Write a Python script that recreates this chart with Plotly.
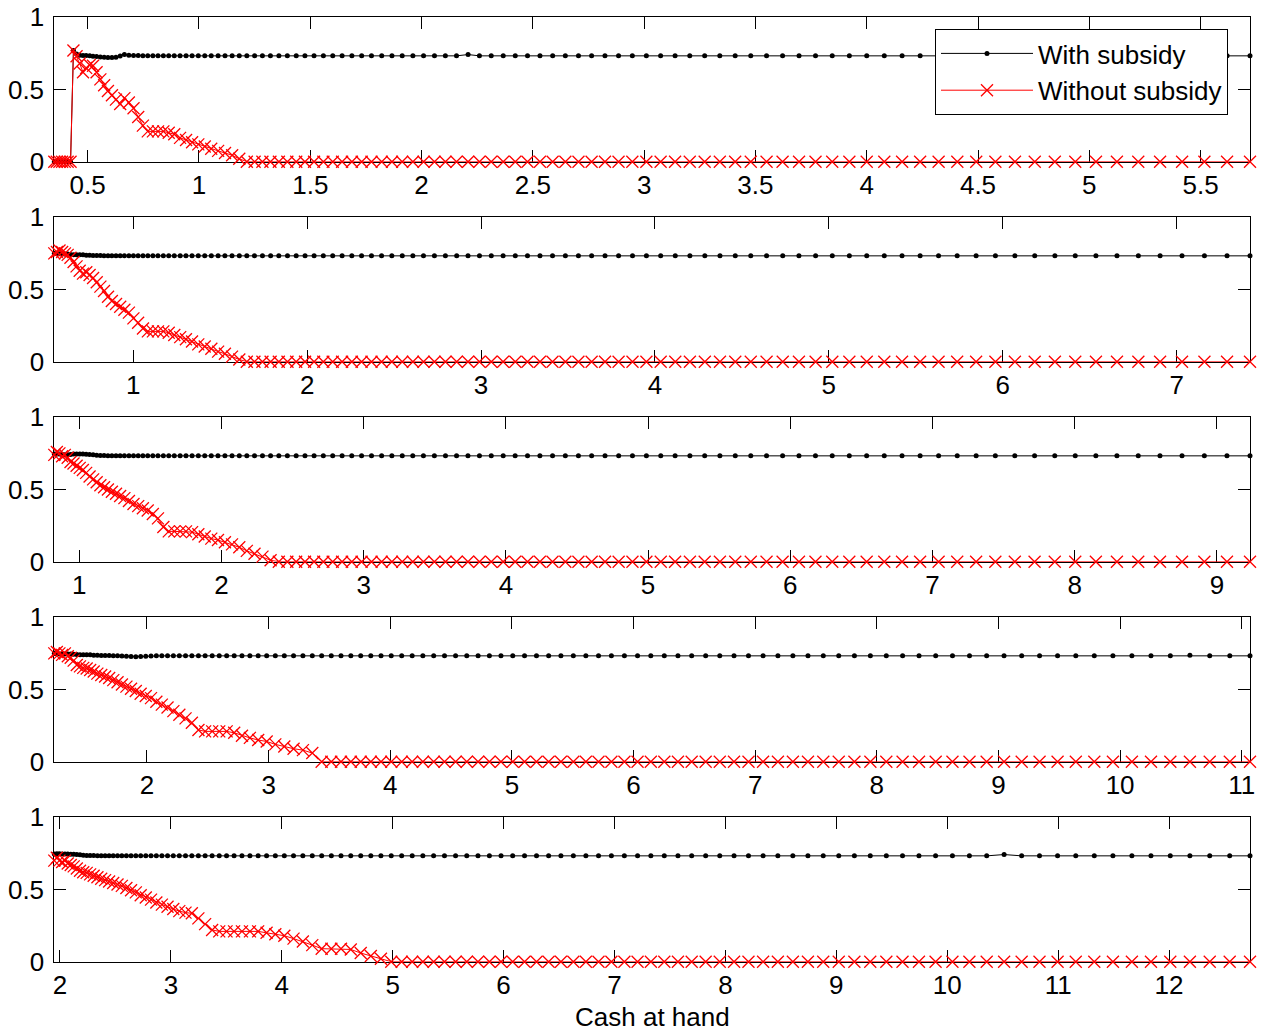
import plotly.graph_objects as go

# ---------------- data ----------------
# Panel 1
x_p1 = [0.350, 0.361, 0.373, 0.385, 0.397, 0.410, 0.423, 0.436, 0.450, 0.464,
        0.479, 0.493, 0.509, 0.524, 0.540, 0.557, 0.574, 0.591, 0.609, 0.627,
        0.646, 0.665, 0.685, 0.706, 0.727, 0.748, 0.770, 0.793, 0.816, 0.840,
        0.864, 0.889, 0.915, 0.942, 0.969, 0.997, 1.026, 1.055, 1.086, 1.117,
        1.149, 1.181, 1.215, 1.250, 1.285, 1.321, 1.359, 1.397, 1.437,
        1.476, 1.517, 1.559, 1.601,
        1.643, 1.687, 1.731, 1.775, 1.821, 1.867, 1.913, 1.961, 2.009, 2.058,
        2.107, 2.157, 2.209, 2.260, 2.313, 2.367, 2.421, 2.476, 2.532, 2.589,
        2.646, 2.705, 2.764, 2.824, 2.885, 2.947, 3.010, 3.074, 3.139, 3.205,
        3.272, 3.340, 3.409, 3.479, 3.550, 3.622, 3.696, 3.770, 3.845, 3.922,
        4.000, 4.079, 4.159, 4.240, 4.323, 4.407, 4.492, 4.578, 4.666, 4.755,
        4.845, 4.937, 5.030, 5.124, 5.220, 5.318, 5.417, 5.517, 5.619, 5.722]
with_p1 = [0, 0, 0, 0, 0, 0, 0, 0.77, 0.745, 0.738,
           0.735, 0.735, 0.733, 0.73, 0.728, 0.725, 0.723, 0.722, 0.722, 0.724,
           0.732, 0.742, 0.738, 0.735, 0.735, 0.734, 0.733, 0.733, 0.733, 0.733,
           0.733, 0.733, 0.733, 0.733, 0.733, 0.733, 0.733, 0.733, 0.733, 0.733,
           0.733, 0.733, 0.733, 0.733, 0.733, 0.733, 0.733, 0.733, 0.733,
           0.733, 0.733, 0.733, 0.733,
           0.733, 0.733, 0.733, 0.733, 0.733, 0.733, 0.733, 0.733, 0.733, 0.733,
           0.733, 0.733, 0.742, 0.733, 0.733, 0.733, 0.733, 0.733, 0.733, 0.733,
           0.733, 0.733, 0.733, 0.733, 0.733, 0.733, 0.733, 0.733, 0.733, 0.733,
           0.733, 0.733, 0.733, 0.733, 0.733, 0.733, 0.733, 0.733, 0.733, 0.733,
           0.733, 0.733, 0.733, 0.733, 0.733, 0.733, 0.733, 0.733, 0.733, 0.733,
           0.733, 0.733, 0.733, 0.733, 0.733, 0.733, 0.733, 0.733, 0.733, 0.733]
without_p1 = [0, 0, 0, 0, 0, 0, 0, 0.77, 0.73, 0.68,
              0.62, 0.65, 0.67, 0.665, 0.62, 0.57, 0.53, 0.49, 0.46, 0.43,
              0.40, 0.44, 0.41, 0.37, 0.31, 0.25, 0.21, 0.21, 0.21, 0.21,
              0.20, 0.19, 0.165, 0.15, 0.135, 0.12, 0.105, 0.09, 0.075, 0.06,
              0.045, 0.02, 0, 0, 0, 0, 0, 0, 0,
              0, 0, 0, 0,
              0, 0, 0, 0, 0, 0, 0, 0, 0, 0,
              0, 0, 0, 0, 0, 0, 0, 0, 0, 0,
              0, 0, 0, 0, 0, 0, 0, 0, 0, 0,
              0, 0, 0, 0, 0, 0, 0, 0, 0, 0,
              0, 0, 0, 0, 0, 0, 0, 0, 0, 0,
              0, 0, 0, 0, 0, 0, 0, 0, 0, 0]
ticks_p1 = [0.5, 1, 1.5, 2, 2.5, 3, 3.5, 4, 4.5, 5, 5.5]
labels_p1 = ["0.5", "1", "1.5", "2", "2.5", "3", "3.5", "4", "4.5", "5", "5.5"]

# Panel 2
x_p2 = [0.546, 0.561, 0.576, 0.591, 0.607, 0.623, 0.639, 0.657, 0.674, 0.692,
        0.711, 0.730, 0.749, 0.769, 0.790, 0.811, 0.832, 0.855, 0.877, 0.901,
        0.925, 0.949, 0.975, 1.001, 1.028, 1.056, 1.084, 1.113, 1.142, 1.173,
        1.204, 1.236, 1.270, 1.303, 1.338, 1.374, 1.411, 1.449, 1.488, 1.527,
        1.568, 1.610, 1.653, 1.697, 1.743, 1.790, 1.837, 1.887, 1.937,
        1.988, 2.040, 2.093, 2.147,
        2.201, 2.257, 2.313, 2.370, 2.428, 2.487, 2.547, 2.608, 2.669, 2.732,
        2.795, 2.860, 2.925, 2.991, 3.059, 3.127, 3.197, 3.267, 3.339, 3.411,
        3.485, 3.560, 3.636, 3.713, 3.791, 3.871, 3.951, 4.033, 4.117, 4.201,
        4.287, 4.374, 4.462, 4.551, 4.642, 4.735, 4.828, 4.924, 5.020, 5.118,
        5.218, 5.319, 5.421, 5.525, 5.631, 5.738, 5.847, 5.958, 6.070, 6.184,
        6.300, 6.417, 6.536, 6.657, 6.780, 6.905, 7.031, 7.160, 7.290, 7.422]
with_p2 = [0.75, 0.75, 0.748, 0.745, 0.745, 0.745, 0.742, 0.74, 0.74, 0.74,
           0.74, 0.738, 0.737, 0.736, 0.735, 0.735, 0.734, 0.734, 0.733, 0.733,
           0.733, 0.733, 0.733, 0.733, 0.733, 0.733, 0.733, 0.733, 0.733, 0.733,
           0.733, 0.733, 0.733, 0.733, 0.733, 0.733, 0.733, 0.733, 0.733, 0.733,
           0.733, 0.733, 0.733, 0.733, 0.733, 0.733, 0.733, 0.733, 0.733,
           0.733, 0.733, 0.733, 0.733,
           0.733, 0.733, 0.733, 0.733, 0.733, 0.733, 0.733, 0.733, 0.733, 0.733,
           0.733, 0.733, 0.733, 0.733, 0.733, 0.733, 0.733, 0.733, 0.733, 0.733,
           0.733, 0.733, 0.733, 0.733, 0.733, 0.733, 0.733, 0.733, 0.733, 0.733,
           0.733, 0.733, 0.733, 0.733, 0.733, 0.733, 0.733, 0.733, 0.733, 0.733,
           0.733, 0.733, 0.733, 0.733, 0.733, 0.733, 0.733, 0.733, 0.733, 0.733,
           0.733, 0.733, 0.733, 0.733, 0.733, 0.733, 0.733, 0.733, 0.733, 0.733]
without_p2 = [0.75, 0.76, 0.77, 0.76, 0.75, 0.74, 0.72, 0.69, 0.66, 0.63,
              0.61, 0.62, 0.60, 0.58, 0.55, 0.52, 0.49, 0.45, 0.42, 0.40,
              0.38, 0.36, 0.34, 0.30, 0.27, 0.23, 0.21, 0.21, 0.21, 0.21,
              0.20, 0.185, 0.17, 0.155, 0.14, 0.12, 0.105, 0.09, 0.07, 0.055,
              0.035, 0.015, 0, 0, 0, 0, 0, 0, 0,
              0, 0, 0, 0,
              0, 0, 0, 0, 0, 0, 0, 0, 0, 0,
              0, 0, 0, 0, 0, 0, 0, 0, 0, 0,
              0, 0, 0, 0, 0, 0, 0, 0, 0, 0,
              0, 0, 0, 0, 0, 0, 0, 0, 0, 0,
              0, 0, 0, 0, 0, 0, 0, 0, 0, 0,
              0, 0, 0, 0, 0, 0, 0, 0, 0, 0]
ticks_p2 = [1, 2, 3, 4, 5, 6, 7]
labels_p2 = ["1", "2", "3", "4", "5", "6", "7"]

# Panel 3
x_p3 = [0.824, 0.842, 0.860, 0.879, 0.898, 0.918, 0.938, 0.959, 0.981, 1.003,
        1.025, 1.048, 1.072, 1.097, 1.122, 1.148, 1.174, 1.201, 1.229, 1.258,
        1.287, 1.317, 1.349, 1.381, 1.414, 1.447, 1.481, 1.517, 1.553, 1.591,
        1.629, 1.668, 1.709, 1.750, 1.793, 1.837, 1.882, 1.928, 1.975, 2.024,
        2.074, 2.125, 2.178, 2.232, 2.288, 2.345, 2.403, 2.463, 2.525,
        2.587, 2.651, 2.716, 2.782,
        2.848, 2.916, 2.985, 3.055, 3.126, 3.198, 3.271, 3.345, 3.420, 3.497,
        3.575, 3.653, 3.733, 3.814, 3.897, 3.981, 4.065, 4.152, 4.239, 4.328,
        4.418, 4.510, 4.603, 4.697, 4.793, 4.890, 4.988, 5.089, 5.190, 5.294,
        5.398, 5.505, 5.613, 5.722, 5.833, 5.946, 6.061, 6.177, 6.295, 6.415,
        6.537, 6.661, 6.786, 6.913, 7.043, 7.174, 7.307, 7.442, 7.579, 7.718,
        7.860, 8.004, 8.149, 8.297, 8.447, 8.600, 8.755, 8.912, 9.071, 9.233]
with_p3 = [0.745, 0.745, 0.745, 0.742, 0.74, 0.74, 0.742, 0.745, 0.745, 0.746,
           0.745, 0.744, 0.742, 0.74, 0.738, 0.736, 0.735, 0.734, 0.733, 0.733,
           0.733, 0.733, 0.733, 0.733, 0.733, 0.733, 0.733, 0.733, 0.733, 0.733,
           0.733, 0.733, 0.733, 0.733, 0.733, 0.733, 0.733, 0.733, 0.733, 0.733,
           0.733, 0.733, 0.733, 0.733, 0.733, 0.733, 0.733, 0.733, 0.733,
           0.733, 0.733, 0.733, 0.733,
           0.733, 0.733, 0.733, 0.733, 0.733, 0.733, 0.733, 0.733, 0.733, 0.733,
           0.733, 0.733, 0.733, 0.733, 0.733, 0.733, 0.733, 0.733, 0.733, 0.733,
           0.733, 0.733, 0.733, 0.733, 0.733, 0.733, 0.733, 0.733, 0.733, 0.733,
           0.733, 0.733, 0.733, 0.733, 0.733, 0.733, 0.733, 0.733, 0.733, 0.733,
           0.733, 0.733, 0.733, 0.733, 0.733, 0.733, 0.733, 0.733, 0.733, 0.733,
           0.733, 0.733, 0.733, 0.733, 0.733, 0.733, 0.733, 0.733, 0.733, 0.733]
without_p3 = [0.74, 0.76, 0.75, 0.73, 0.74, 0.72, 0.69, 0.68, 0.665, 0.65,
              0.635, 0.615, 0.59, 0.57, 0.55, 0.53, 0.515, 0.50, 0.485, 0.47,
              0.455, 0.44, 0.42, 0.40, 0.385, 0.37, 0.355, 0.33, 0.30, 0.24,
              0.21, 0.21, 0.21, 0.21, 0.205, 0.19, 0.175, 0.16, 0.15, 0.135,
              0.12, 0.10, 0.075, 0.055, 0.035, 0.01, 0, 0, 0,
              0, 0, 0, 0,
              0, 0, 0, 0, 0, 0, 0, 0, 0, 0,
              0, 0, 0, 0, 0, 0, 0, 0, 0, 0,
              0, 0, 0, 0, 0, 0, 0, 0, 0, 0,
              0, 0, 0, 0, 0, 0, 0, 0, 0, 0,
              0, 0, 0, 0, 0, 0, 0, 0, 0, 0,
              0, 0, 0, 0, 0, 0, 0, 0, 0, 0]
ticks_p3 = [1, 2, 3, 4, 5, 6, 7, 8, 9]
labels_p3 = ["1", "2", "3", "4", "5", "6", "7", "8", "9"]

# Panel 4
x_p4 = [1.238, 1.259, 1.280, 1.302, 1.325, 1.349, 1.373, 1.397, 1.423, 1.449,
        1.476, 1.504, 1.533, 1.562, 1.592, 1.624, 1.656, 1.689, 1.723, 1.758,
        1.794, 1.831, 1.869, 1.908, 1.948, 1.990, 2.033, 2.077, 2.122, 2.169,
        2.217, 2.266, 2.317, 2.369, 2.423, 2.478, 2.536, 2.594, 2.655, 2.717,
        2.781, 2.846, 2.914, 2.984, 3.055, 3.129, 3.205,
        3.282, 3.359, 3.436, 3.515, 3.595, 3.676, 3.757, 3.840,
        3.924, 4.008, 4.094, 4.180, 4.268, 4.357, 4.446, 4.537, 4.629, 4.722,
        4.815, 4.910, 5.007, 5.104, 5.202, 5.302, 5.403, 5.505, 5.608, 5.712,
        5.818, 5.925, 6.033, 6.142, 6.253, 6.365, 6.478, 6.593, 6.709, 6.826,
        6.945, 7.065, 7.187, 7.310, 7.434, 7.560, 7.687, 7.816, 7.947, 8.078,
        8.212, 8.347, 8.484, 8.622, 8.762, 8.903, 9.046, 9.191, 9.338, 9.486,
        9.636, 9.788, 9.941, 10.097, 10.254, 10.413, 10.574, 10.737, 10.902, 11.068]
with_p4 = [0.75, 0.748, 0.745, 0.745, 0.745, 0.745, 0.745, 0.744, 0.742, 0.74,
           0.74, 0.74, 0.74, 0.738, 0.737, 0.736, 0.735, 0.735, 0.734, 0.733,
           0.732, 0.73, 0.728, 0.727, 0.728, 0.73, 0.732, 0.733, 0.733, 0.733,
           0.733, 0.733, 0.733, 0.733, 0.733, 0.733, 0.733, 0.733, 0.733, 0.733,
           0.733, 0.733, 0.733, 0.733, 0.733, 0.733, 0.733,
           0.733, 0.733, 0.733, 0.733, 0.733, 0.733, 0.733, 0.733,
           0.733, 0.733, 0.733, 0.733, 0.733, 0.733, 0.733, 0.733, 0.733, 0.733,
           0.733, 0.733, 0.733, 0.733, 0.733, 0.733, 0.733, 0.733, 0.733, 0.733,
           0.733, 0.733, 0.733, 0.733, 0.733, 0.733, 0.733, 0.733, 0.733, 0.733,
           0.733, 0.733, 0.733, 0.733, 0.733, 0.733, 0.733, 0.733, 0.733, 0.733,
           0.733, 0.733, 0.733, 0.733, 0.733, 0.733, 0.733, 0.733, 0.733, 0.733,
           0.733, 0.733, 0.733, 0.733, 0.733, 0.733, 0.738, 0.733, 0.733, 0.733]
without_p4 = [0.75, 0.76, 0.75, 0.74, 0.75, 0.73, 0.72, 0.70, 0.67, 0.66,
              0.65, 0.645, 0.635, 0.625, 0.61, 0.60, 0.59, 0.58, 0.565, 0.55,
              0.535, 0.52, 0.505, 0.49, 0.47, 0.455, 0.44, 0.415, 0.395, 0.375,
              0.35, 0.325, 0.30, 0.27, 0.22, 0.21, 0.21, 0.21, 0.21, 0.20,
              0.18, 0.165, 0.15, 0.14, 0.12, 0.105, 0.09,
              0.08, 0.06, 0, 0, 0, 0, 0, 0,
              0, 0, 0, 0, 0, 0, 0, 0, 0, 0,
              0, 0, 0, 0, 0, 0, 0, 0, 0, 0,
              0, 0, 0, 0, 0, 0, 0, 0, 0, 0,
              0, 0, 0, 0, 0, 0, 0, 0, 0, 0,
              0, 0, 0, 0, 0, 0, 0, 0, 0, 0,
              0, 0, 0, 0, 0, 0, 0, 0, 0, 0]
ticks_p4 = [2, 3, 4, 5, 6, 7, 8, 9, 10, 11]
labels_p4 = ["2", "3", "4", "5", "6", "7", "8", "9", "10", "11"]

# Panel 5
x_p5 = [1.949, 1.972, 1.995, 2.020, 2.045, 2.070, 2.097, 2.124, 2.152, 2.181,
        2.210, 2.241, 2.272, 2.304, 2.338, 2.372, 2.407, 2.443, 2.480, 2.519,
        2.558, 2.599, 2.641, 2.684, 2.728, 2.774, 2.821, 2.869, 2.919, 2.970,
        3.022, 3.076, 3.132, 3.189, 3.248, 3.309, 3.372, 3.436, 3.502, 3.570,
        3.641, 3.713, 3.787, 3.863, 3.942, 4.023, 4.106,
        4.190, 4.275, 4.360, 4.447, 4.534, 4.622, 4.712, 4.803,
        4.894, 4.987, 5.081, 5.176, 5.272, 5.369, 5.467, 5.567, 5.668, 5.769,
        5.872, 5.977, 6.082, 6.189, 6.297, 6.406, 6.517, 6.629, 6.742, 6.856,
        6.972, 7.089, 7.208, 7.328, 7.449, 7.572, 7.696, 7.822, 7.949, 8.078,
        8.208, 8.340, 8.473, 8.608, 8.744, 8.882, 9.022, 9.163, 9.306, 9.451,
        9.597, 9.745, 9.895, 10.047, 10.200, 10.356, 10.513, 10.671, 10.832, 10.995,
        11.159, 11.326, 11.494, 11.665, 11.837, 12.011, 12.188, 12.367, 12.547, 12.730]
with_p5 = [0.745, 0.748, 0.748, 0.746, 0.745, 0.745, 0.744, 0.744, 0.742, 0.74,
           0.738, 0.736, 0.735, 0.735, 0.734, 0.734, 0.733, 0.733, 0.733, 0.733,
           0.733, 0.733, 0.733, 0.733, 0.733, 0.733, 0.733, 0.733, 0.733, 0.733,
           0.733, 0.733, 0.733, 0.733, 0.733, 0.733, 0.733, 0.733, 0.733, 0.733,
           0.733, 0.733, 0.733, 0.733, 0.733, 0.733, 0.733,
           0.733, 0.733, 0.733, 0.733, 0.733, 0.733, 0.733, 0.733,
           0.733, 0.733, 0.733, 0.733, 0.733, 0.733, 0.733, 0.733, 0.733, 0.733,
           0.733, 0.733, 0.733, 0.733, 0.733, 0.733, 0.733, 0.733, 0.733, 0.733,
           0.733, 0.733, 0.733, 0.733, 0.733, 0.733, 0.733, 0.733, 0.733, 0.733,
           0.733, 0.733, 0.733, 0.733, 0.733, 0.733, 0.733, 0.733, 0.733, 0.733,
           0.733, 0.733, 0.733, 0.733, 0.733, 0.733, 0.742, 0.733, 0.733, 0.733,
           0.733, 0.733, 0.733, 0.733, 0.733, 0.733, 0.733, 0.733, 0.733, 0.733]
without_p5 = [0.70, 0.72, 0.70, 0.69, 0.70, 0.68, 0.67, 0.66, 0.645, 0.63,
              0.62, 0.615, 0.605, 0.595, 0.585, 0.575, 0.565, 0.555, 0.545, 0.535,
              0.525, 0.51, 0.495, 0.48, 0.46, 0.445, 0.43, 0.41, 0.395, 0.38,
              0.365, 0.35, 0.34, 0.335, 0.30, 0.26, 0.22, 0.21, 0.21, 0.21,
              0.21, 0.21, 0.21, 0.20, 0.19, 0.18, 0.16,
              0.14, 0.115, 0.09, 0.09, 0.09, 0.085, 0.06, 0.04,
              0.02, 0, 0, 0, 0, 0, 0, 0, 0, 0,
              0, 0, 0, 0, 0, 0, 0, 0, 0, 0,
              0, 0, 0, 0, 0, 0, 0, 0, 0, 0,
              0, 0, 0, 0, 0, 0, 0, 0, 0, 0,
              0, 0, 0, 0, 0, 0, 0, 0, 0, 0,
              0, 0, 0, 0, 0, 0, 0, 0, 0, 0]
ticks_p5 = [2, 3, 4, 5, 6, 7, 8, 9, 10, 11, 12]
labels_p5 = ["2", "3", "4", "5", "6", "7", "8", "9", "10", "11", "12"]

y_ticks = [0, 0.5, 1]
y_labels = ["0", "0.5", "1"]
series_names = ["With subsidy", "Without subsidy"]
x_title = "Cash at hand"

# ---------------- figure ----------------
W, H = 1264, 1036
FONT = "Liberation Sans, Arial, Helvetica, sans-serif"
FS = 26

panels = [
    (x_p1, with_p1, without_p1, ticks_p1, labels_p1),
    (x_p2, with_p2, without_p2, ticks_p2, labels_p2),
    (x_p3, with_p3, without_p3, ticks_p3, labels_p3),
    (x_p4, with_p4, without_p4, ticks_p4, labels_p4),
    (x_p5, with_p5, without_p5, ticks_p5, labels_p5),
]

x_dom = [54.3 / W, 1250 / W]
panel_tops = [17.3, 217.3, 417.3, 617.3, 817.3]
panel_h = 144.4

fig = go.Figure()
layout = {}
for k, (xs, w, wo, tv, tt) in enumerate(panels):
    assert len(xs) == len(w) == len(wo), (k, len(xs), len(w), len(wo))
    sfx = "" if k == 0 else str(k + 1)
    xa, ya = "x" + sfx, "y" + sfx
    fig.add_trace(go.Scatter(
        x=xs, y=w, mode="lines+markers", name=series_names[0],
        line=dict(color="black", width=1),
        marker=dict(symbol="circle", size=5, color="black"),
        showlegend=(k == 0), xaxis=xa, yaxis=ya, cliponaxis=False))
    fig.add_trace(go.Scatter(
        x=xs, y=wo, mode="lines+markers", name=series_names[1],
        line=dict(color="#ff0000", width=1),
        marker=dict(symbol="x-thin", size=12, color="#ff0000",
                    line=dict(color="#ff0000", width=1.3)),
        showlegend=(k == 0), xaxis=xa, yaxis=ya, cliponaxis=False))
    top = panel_tops[k]
    y_dom = [1 - (top + panel_h) / H, 1 - top / H]
    common = dict(showline=True, linecolor="black", linewidth=1, mirror="ticks",
                  ticks="inside", ticklen=12, tickwidth=1, tickcolor="black",
                  showgrid=False, zeroline=False, layer="below traces", automargin=False,
                  tickfont=dict(family=FONT, size=FS, color="black"))
    layout["xaxis" + sfx] = dict(domain=x_dom, anchor=ya, range=[xs[0], xs[-1]],
                                 tickmode="array", tickvals=tv, ticktext=tt,
                                 ticklabelstandoff=0, **common)
    layout["yaxis" + sfx] = dict(domain=y_dom, anchor=xa, range=[0, 1],
                                 tickmode="array", tickvals=y_ticks, ticktext=y_labels,
                                 ticklabelstandoff=4, **common)

fig.update_layout(**layout)
fig.update_layout(
    width=W, height=H, autosize=False,
    margin=dict(l=0, r=0, t=0, b=0, pad=0, autoexpand=False),
    paper_bgcolor="white", plot_bgcolor="white",
    font=dict(family=FONT, size=FS, color="black"),
    legend=dict(x=935 / W, y=1 - 29 / H, xanchor="left", yanchor="top",
                bgcolor="white", bordercolor="black", borderwidth=1,
                font=dict(family=FONT, size=FS, color="black"),
                itemwidth=92, tracegroupgap=0),
    annotations=[dict(text=x_title, x=652 / W, y=1 - 1017 / H, xref="paper", yref="paper",
                      xanchor="center", yanchor="middle", showarrow=False,
                      font=dict(family=FONT, size=FS, color="black"))],
)

fig.write_html("out.html")
